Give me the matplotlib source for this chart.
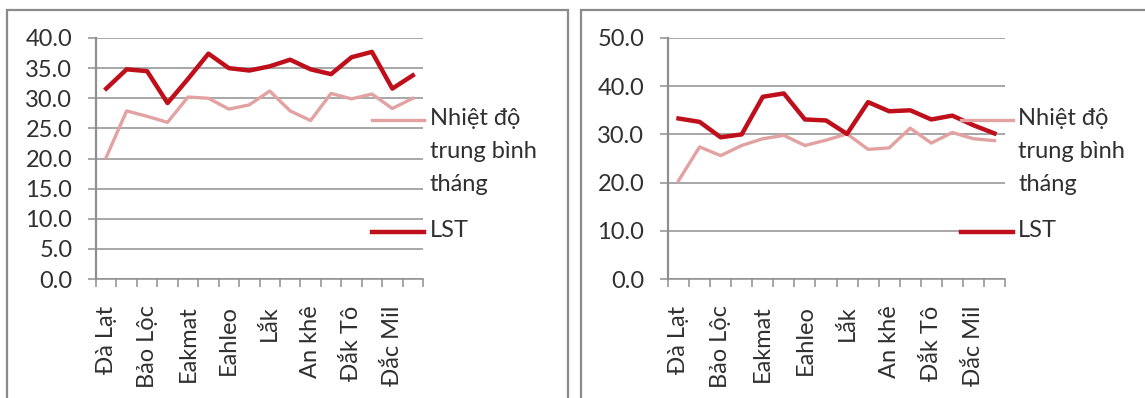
import matplotlib
matplotlib.use("Agg")
import matplotlib.pyplot as plt
from matplotlib.lines import Line2D
from matplotlib.patches import Rectangle

# Stations along the x axis (Excel only shows every second name)
stations = ["Đà Lạt", "", "Bảo Lộc", "", "Eakmat", "", "Eahleo", "",
            "Lắk", "", "An khê", "", "Đắk Tô", "", "Đắc Mil", ""]
series_names = ["Nhiệt độ\ntrung bình\ntháng", "LST"]

# Left chart
left_avg = [20.2, 27.9, 27.0, 26.0, 30.2, 30.0, 28.2, 28.9,
            31.2, 27.9, 26.3, 30.8, 29.9, 30.7, 28.3, 30.0]
left_lst = [31.6, 34.8, 34.5, 29.2, 33.2, 37.4, 35.0, 34.6,
            35.3, 36.4, 34.8, 34.0, 36.8, 37.7, 31.6, 33.8]
left_yticks = [0, 5, 10, 15, 20, 25, 30, 35, 40]

# Right chart
right_avg = [20.4, 27.4, 25.6, 27.7, 29.1, 29.8, 27.7, 28.8,
             30.1, 26.9, 27.2, 31.3, 28.2, 30.4, 29.1, 28.7]
right_lst = [33.3, 32.6, 29.4, 30.0, 37.8, 38.5, 33.1, 32.9,
             30.1, 36.7, 34.8, 35.0, 33.1, 33.9, 31.9, 30.2]
right_yticks = [0, 10, 20, 30, 40, 50]

W, H = 1145, 398
AVG_COLOR = "#E2A2A2"
LST_COLOR = "#BE0F1A"
GRID_COLOR = "#8F8F8F"
TEXT_COLOR = "#303030"
FONT = ["Lato", "DejaVu Sans"]
FS = 17

plt.rcParams["font.family"] = FONT


def fx(px):
    return px / W


def fy(py):
    return 1 - py / H


fig = plt.figure(figsize=(W / 100, H / 100), dpi=100)
fig.patch.set_facecolor("white")

# chart frames
for x0, x1 in [(7, 568), (581, 1152)]:
    fig.patches.append(Rectangle((fx(x0), fy(402)), fx(x1) - fx(x0), fy(10) - fy(402),
                                 transform=fig.transFigure, fill=False,
                                 edgecolor="#8A8A8A", linewidth=1.6))


def draw_panel(left_px, right_px, avg, lst, yticks, key_x0, key_x1, text_x):
    ax = fig.add_axes([fx(left_px), fy(279), fx(right_px) - fx(left_px), fy(38) - fy(279)])
    n = len(stations)
    xs = list(range(n))
    ax.set_xlim(-0.5, n - 0.5)
    ax.set_ylim(yticks[0], yticks[-1])
    ax.set_yticks(yticks)
    ax.set_yticklabels([f"{v:.1f}" for v in yticks])
    ax.yaxis.grid(True, color=GRID_COLOR, linewidth=1.1)
    ax.set_axisbelow(True)
    for s in ["top", "right"]:
        ax.spines[s].set_visible(False)
    ax.spines["left"].set_color(GRID_COLOR)
    ax.spines["left"].set_linewidth(1.6)
    ax.spines["bottom"].set_color(GRID_COLOR)
    ax.spines["bottom"].set_linewidth(1.1)
    ax.tick_params(axis="y", length=6, width=1.1, color=GRID_COLOR, pad=11,
                   labelsize=FS, labelcolor=TEXT_COLOR)
    ax.set_xticks(xs)
    ax.set_xticklabels(stations, rotation=90)
    ax.set_xticks([i - 0.5 for i in range(n + 1)], minor=True)
    ax.tick_params(axis="x", which="major", length=0, pad=19,
                   labelsize=FS, labelcolor=TEXT_COLOR)
    ax.tick_params(axis="x", which="minor", length=6, width=1.1, color=GRID_COLOR)

    ax.plot(xs, avg, color=AVG_COLOR, linewidth=2.4, solid_joinstyle="round")
    ax.plot(xs, lst, color=LST_COLOR, linewidth=3.2, solid_joinstyle="round")

    # legend keys drawn beside the plot
    for ypx, color, lw, label in [(120, AVG_COLOR, 2.4, series_names[0]),
                                  (232, LST_COLOR, 3.2, series_names[1])]:
        fig.lines.append(Line2D([fx(key_x0), fx(key_x1)], [fy(ypx), fy(ypx)],
                                transform=fig.transFigure, color=color, linewidth=lw))
        fig.text(fx(text_x), fy(ypx - 12), label, ha="left", va="top",
                 fontsize=FS, color=TEXT_COLOR, linespacing=1.7)
    return ax


draw_panel(96, 423, left_avg, left_lst, left_yticks, 372, 424, 430)
draw_panel(668, 1005, right_avg, right_lst, right_yticks, 961, 1013, 1018)

fig.savefig("out.png", dpi=100, facecolor="white")
